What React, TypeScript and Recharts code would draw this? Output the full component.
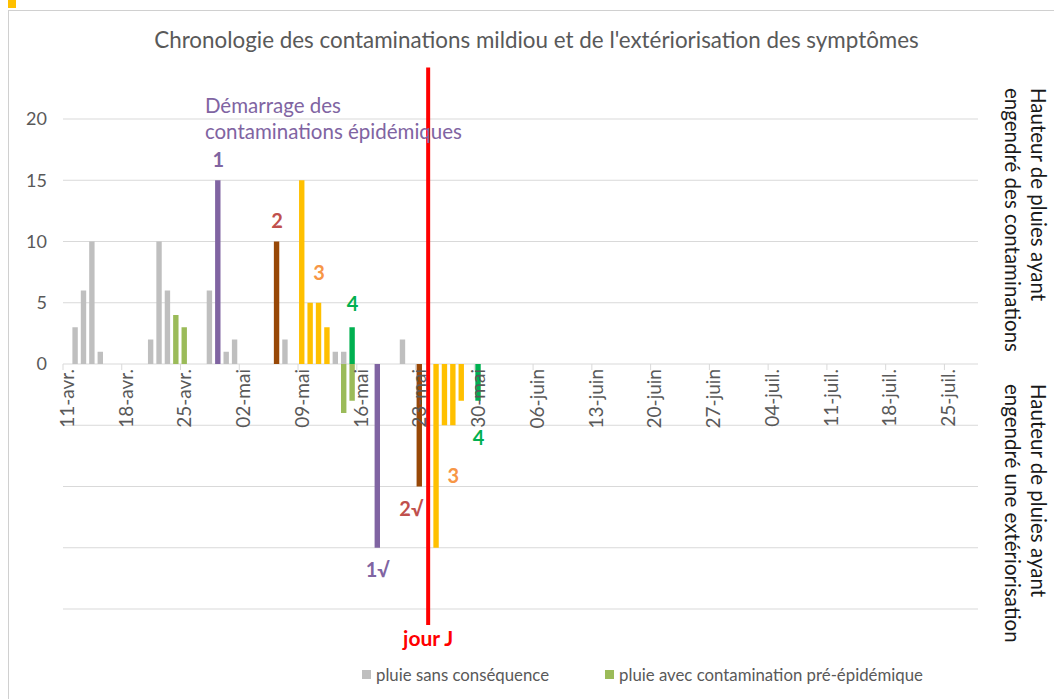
import {
  Bar,
  BarChart,
  CartesianGrid,
  Legend,
  ReferenceDot,
  ReferenceLine,
  XAxis,
  YAxis,
} from "recharts";

// categories: one band per day, 11 April -> 28 July
const MONTHS = ["janv.", "févr.", "mars", "avr.", "mai", "juin", "juil.", "août"];
const DAY_COUNT = 109;
const DAYS: string[] = [];
for (let i = 0; i < DAY_COUNT; i++) {
  const d = new Date(Date.UTC(2019, 3, 11 + i));
  DAYS.push(`${String(d.getUTCDate()).padStart(2, "0")}-${MONTHS[d.getUTCMonth()]}`);
}

const TICK_LABELS = [
  "11-avr.", "18-avr.", "25-avr.", "02-mai", "09-mai", "16-mai", "23-mai", "30-mai",
  "06-juin", "13-juin", "20-juin", "27-juin", "04-juil.", "11-juil.", "18-juil.", "25-juil.",
];
const Y_TICKS = [-20, -15, -10, -5, 0, 5, 10, 15, 20];

// rain heights (mm), positive = contamination, negative = symptoms
const SANS_CONSEQUENCE: [string, number][] = [
  ["12-avr.", 3], ["13-avr.", 6], ["14-avr.", 10], ["15-avr.", 1],
  ["21-avr.", 2], ["22-avr.", 10], ["23-avr.", 6],
  ["28-avr.", 6], ["30-avr.", 1], ["01-mai", 2],
  ["07-mai", 2], ["13-mai", 1], ["14-mai", 1], ["21-mai", 2],
];
const PRE_EPIDEMIQUE: [string, number][] = [
  ["24-avr.", 4], ["25-avr.", 3], ["14-mai", -4], ["15-mai", -3],
];
const CONTAMINATION_1: [string, number][] = [["29-avr.", 15], ["18-mai", -15]];
const CONTAMINATION_2: [string, number][] = [["06-mai", 10], ["23-mai", -10]];
const CONTAMINATION_3: [string, number][] = [
  ["09-mai", 15], ["10-mai", 5], ["11-mai", 5], ["12-mai", 3],
  ["25-mai", -15], ["26-mai", -5], ["27-mai", -5], ["28-mai", -3],
];
const CONTAMINATION_4: [string, number][] = [["15-mai", 3], ["30-mai", -3]];

const SERIES = [
  { key: "sans", name: "pluie sans conséquence", color: "#BFBFBF", values: SANS_CONSEQUENCE, legend: true },
  { key: "pre", name: "pluie avec contamination pré-épidémique", color: "#9BBB59", values: PRE_EPIDEMIQUE, legend: true },
  { key: "c1", name: "contamination 1", color: "#8064A2", values: CONTAMINATION_1, legend: false },
  { key: "c2", name: "contamination 2", color: "#984807", values: CONTAMINATION_2, legend: false },
  { key: "c3", name: "contamination 3", color: "#FFC000", values: CONTAMINATION_3, legend: false },
  { key: "c4", name: "contamination 4", color: "#00B050", values: CONTAMINATION_4, legend: false },
];

const JOUR_J = "24-mai";

const ANNOTATIONS = [
  { day: "29-avr.", y: 16.7, text: "1", color: "#8064A2" },
  { day: "06-mai", y: 11.7, text: "2", color: "#C0504D" },
  { day: "11-mai", y: 7.4, text: "3", color: "#F79646" },
  { day: "15-mai", y: 4.9, text: "4", color: "#00B050" },
  { day: "18-mai", y: -16.8, text: "1√", color: "#8064A2" },
  { day: "22-mai", y: -11.8, text: "2√", color: "#C0504D" },
  { day: "27-mai", y: -9.1, text: "3", color: "#F79646" },
  { day: "30-mai", y: -6, text: "4", color: "#00B050" },
  { day: JOUR_J, y: -22.4, text: "jour J", color: "#FF0000" },
];

const data = DAYS.map((day) => {
  const row: Record<string, string | number | undefined> = { day };
  SERIES.forEach((s) => {
    const hit = s.values.find((v) => v[0] === day);
    row[s.key] = hit ? hit[1] : undefined;
  });
  return row;
});

const FONT = "Lato, 'Open Sans', sans-serif";
const W = 1054;
const H = 699;
const MARGIN = { top: 119, right: 76, left: 0, bottom: 15 };
const Y_AXIS_W = 63;
const X_AXIS_H = 55;
const LEGEND_H = 20;
const PLOT_W = W - MARGIN.right - MARGIN.left - Y_AXIS_W;
const PLOT_H = H - MARGIN.top - MARGIN.bottom - X_AXIS_H - LEGEND_H;
const BAND = PLOT_W / DAYS.length;

// date labels sit on the zero line, not at the bottom of the plot
const DateTick = ({ x, y, payload }: any) => {
  const y0 = y - PLOT_H / 2;
  const left = x - BAND / 2;
  return (
    <g>
      <line x1={left} x2={left} y1={y0} y2={y0 + 6} stroke="#D9D9D9" />
      <text
        transform={`rotate(-90, ${x}, ${y0 + 5})`}
        x={x}
        y={y0 + 5}
        dy="0.35em"
        textAnchor="end"
        fill="#595959"
        fontSize={19}
      >
        {payload.value}
      </text>
    </g>
  );
};

const StartLabel = ({ viewBox }: any) => (
  <text x={viewBox.x - 5} y={viewBox.y} fill="#8064A2" fontSize={20.5}>
    <tspan x={viewBox.x - 5} dy="0.35em">Démarrage des</tspan>
    <tspan x={viewBox.x - 5} dy={26}>contaminations épidémiques</tspan>
  </text>
);

const LegendBox = () => (
  <div
    style={{
      height: LEGEND_H,
      display: "flex",
      alignItems: "center",
      fontFamily: FONT,
      fontSize: 16.8,
      color: "#595959",
      whiteSpace: "nowrap",
    }}
  >
    {SERIES.filter((s) => s.legend).map((s, i) => (
      <div
        key={s.key}
        style={{ display: "flex", alignItems: "center", marginLeft: i === 0 ? 0 : 56 }}
      >
        <span style={{ width: 9, height: 9, background: s.color, marginRight: 5 }} />
        {s.name}
      </div>
    ))}
  </div>
);

const sideTitle = (top: number, lines: string[]) => (
  <div
    style={{
      position: "absolute",
      left: 1000,
      top,
      width: 52,
      writingMode: "vertical-rl",
      fontFamily: FONT,
      fontSize: 20.5,
      lineHeight: "26px",
      color: "#1a1a1a",
      whiteSpace: "nowrap",
    }}
  >
    {lines.map((l) => (
      <div key={l}>{l}</div>
    ))}
  </div>
);

export default function App() {
  return (
    <div style={{ position: "absolute", left: 0, top: 0, width: W, height: H, overflow: "hidden", background: "#fff" }}>
      <div style={{ position: "absolute", left: 8, top: 0, width: 8, height: 8, background: "#FFC000" }} />
      <div
        style={{
          position: "absolute",
          left: 8,
          top: 10,
          width: 1200,
          height: 800,
          border: "1px solid #D0D0D0",
        }}
      />
      <div
        style={{
          position: "absolute",
          left: 0,
          top: 26,
          width: 1073,
          textAlign: "center",
          fontFamily: FONT,
          fontSize: 22.4,
          color: "#595959",
          whiteSpace: "nowrap",
        }}
      >
        Chronologie des contaminations mildiou et de l'extériorisation des symptômes
      </div>
      {sideTitle(88, ["Hauteur de pluies ayant", "engendré des contaminations"])}
      {sideTitle(384, ["Hauteur de pluies ayant", "engendré une extériorisation"])}

      <div style={{ position: "absolute", left: 0, top: 0 }}>
        <BarChart
          width={W}
          height={H}
          data={data}
          margin={MARGIN}
          stackOffset="sign"
          barSize={5.4}
          style={{ fontFamily: FONT }}
        >
          <CartesianGrid vertical={false} stroke="#D9D9D9" />
          <XAxis
            dataKey="day"
            ticks={TICK_LABELS}
            interval={0}
            height={X_AXIS_H}
            axisLine={false}
            tickLine={false}
            tickSize={0}
            tickMargin={0}
            tick={<DateTick />}
          />
          <YAxis
            width={Y_AXIS_W}
            domain={[-20, 20]}
            ticks={Y_TICKS}
            axisLine={false}
            tickLine={false}
            tickSize={0}
            tickMargin={16}
            tickFormatter={(v: number) => (v < 0 ? "" : String(v))}
            tick={{ fill: "#595959", fontSize: 18 }}
          />
          <Legend verticalAlign="bottom" content={<LegendBox />} wrapperStyle={{ left: 362, width: 690 }} />
          {SERIES.map((s) => (
            <Bar
              key={s.key}
              dataKey={s.key}
              name={s.name}
              stackId="a"
              fill={s.color}
              isAnimationActive={false}
            />
          ))}
          <ReferenceLine
            segment={[
              { x: JOUR_J, y: 24.2 },
              { x: JOUR_J, y: -21.3 },
            ]}
            stroke="#FF0000"
            strokeWidth={4}
            ifOverflow="visible"
          />
          <ReferenceDot x="28-avr." y={21.06} r={0} ifOverflow="visible" label={<StartLabel />} />
          {ANNOTATIONS.map((a) => (
            <ReferenceDot
              key={a.day + a.text}
              x={a.day}
              y={a.y}
              r={0}
              ifOverflow="visible"
              label={{ value: a.text, fill: a.color, fontSize: a.text === "jour J" ? 21 : 20, fontWeight: 700 }}
            />
          ))}
        </BarChart>
      </div>
    </div>
  );
}
